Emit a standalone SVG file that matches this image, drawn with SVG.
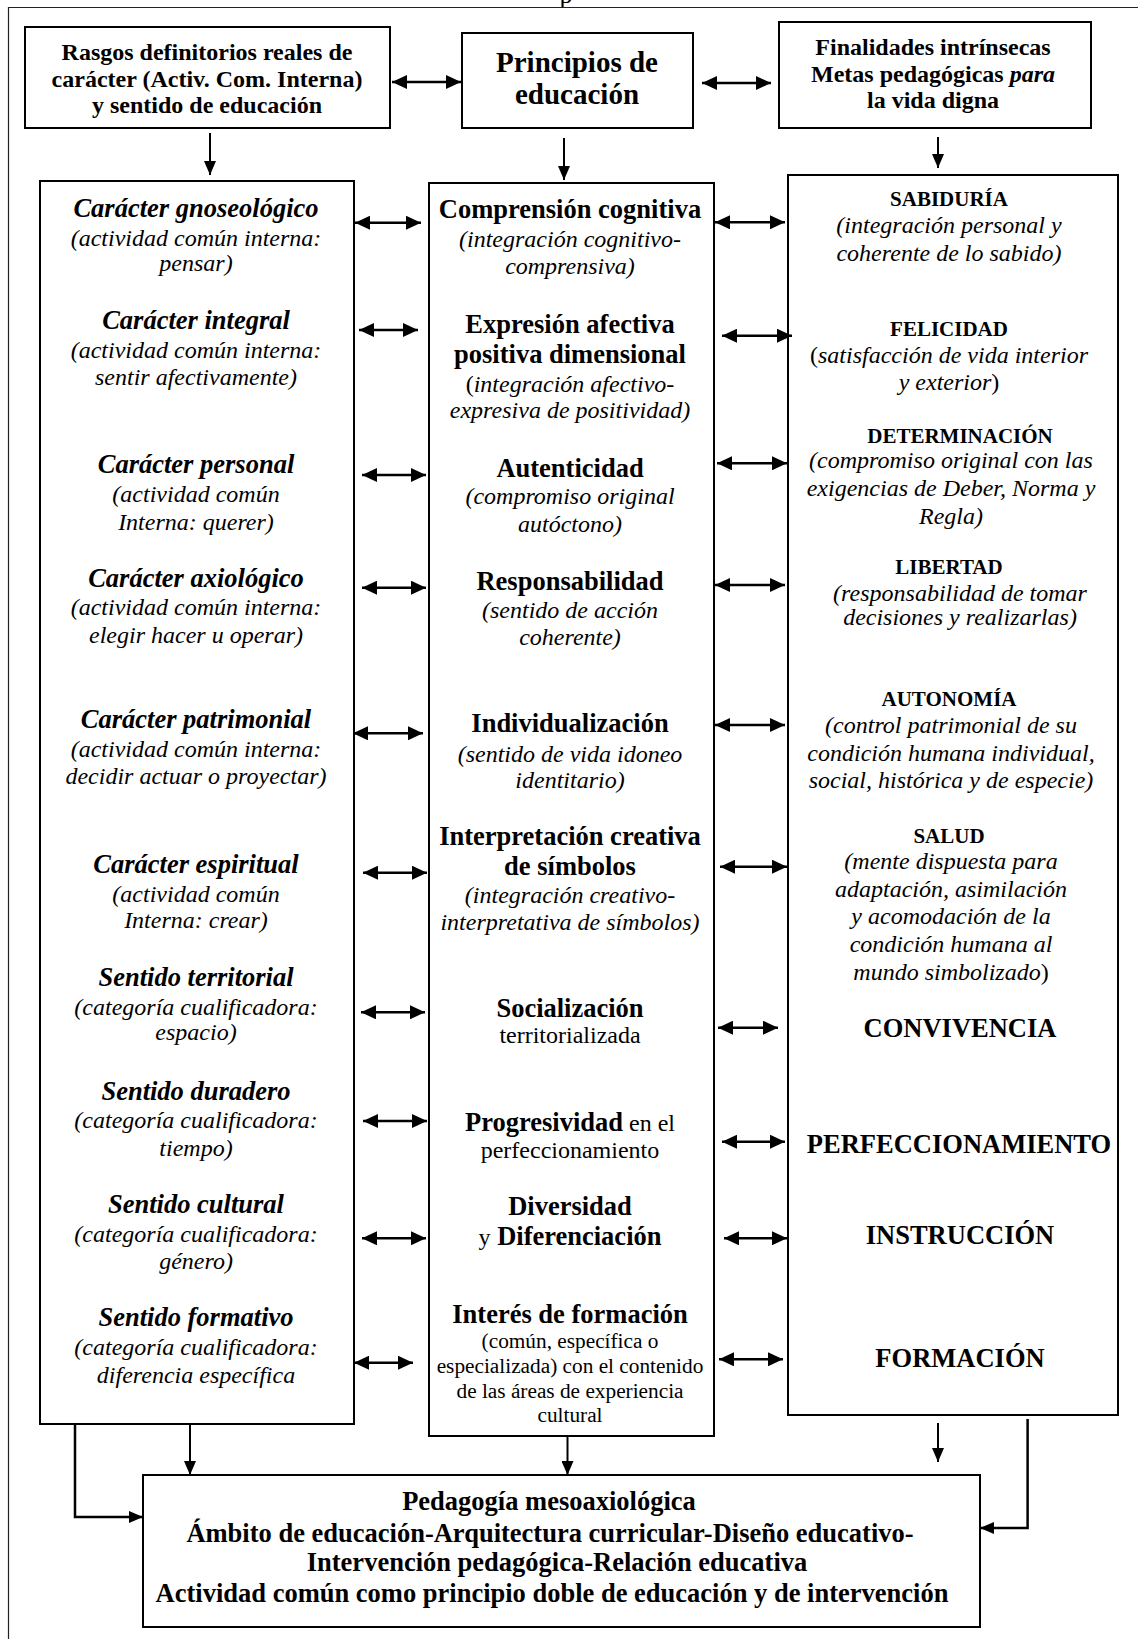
<svg xmlns="http://www.w3.org/2000/svg" width="1138" height="1639" viewBox="0 0 1138 1639">
<defs>
<marker id="ah" markerUnits="userSpaceOnUse" markerWidth="15" markerHeight="14" refX="15" refY="7" orient="auto-start-reverse" viewBox="0 0 15 14"><path d="M0,0 L15,7 L0,14 Z" fill="#000"/></marker>
<marker id="ad" markerUnits="userSpaceOnUse" markerWidth="14" markerHeight="12" refX="14" refY="6" orient="auto" viewBox="0 0 14 12"><path d="M0,0 L14,6 L0,12 Z" fill="#000"/></marker>
<style>
.bx{fill:#fff;stroke:#000;stroke-width:2}
.dbl{stroke:#000;stroke-width:2.5;fill:none;marker-start:url(#ah);marker-end:url(#ah)}
.one{stroke:#000;stroke-width:2;fill:none;marker-end:url(#ad)}
text{font-family:"Liberation Serif","Times New Roman",serif;text-anchor:middle;fill:#000}
.tb{font-weight:bold;font-size:24px}
.tp{font-weight:bold;font-size:29px}
.lh{font-weight:bold;font-style:italic;font-size:26.5px}
.it{font-style:italic;font-size:24px}
.mb{font-weight:bold;font-size:26.5px}
.rg{font-size:24px}
.sm{font-size:21.3px}
.rh{font-weight:bold;font-size:21px}
.rb{font-weight:bold;font-size:26.5px}
.up{font-style:normal}
</style>
</defs>
<rect width="1138" height="1639" fill="#fff"/>
<text x="566" y="3" style="font-size:26px">p</text>
<path d="M8.5,1639 V7.5 H1138" fill="none" stroke="#222" stroke-width="1.2"/>

<g id="n-rasgos">
<rect class="bx" x="25" y="27" width="365" height="101"/>
<text class="tb" x="207" y="60">Rasgos definitorios reales de</text>
<text class="tb" x="207" y="87">carácter (Activ. Com. Interna)</text>
<text class="tb" x="207" y="113">y sentido de educación</text>
</g>
<g id="n-principios">
<rect class="bx" x="462" y="33" width="231" height="95"/>
<text class="tp" x="577" y="72">Principios de</text>
<text class="tp" x="577" y="104">educación</text>
</g>
<g id="n-finalidades">
<rect class="bx" x="779" y="22" width="312" height="106"/>
<text class="tb" x="933" y="55">Finalidades intrínsecas</text>
<text class="tb" x="933" y="82">Metas pedagógicas <tspan font-style="italic">para</tspan></text>
<text class="tb" x="933" y="108">la vida digna</text>
</g>

<g id="n-caracter">
<rect class="bx" x="40" y="181" width="314" height="1243"/>
<text class="lh" x="196" y="216.7">Carácter gnoseológico</text>
<text class="it" x="196" y="246">(actividad común interna:</text>
<text class="it" x="196" y="270.7">pensar)</text>
<text class="lh" x="196" y="329.3">Carácter integral</text>
<text class="it" x="196" y="358.3">(actividad común interna:</text>
<text class="it" x="196" y="385">sentir afectivamente)</text>
<text class="lh" x="196" y="473.3">Carácter personal</text>
<text class="it" x="196" y="501.7">(actividad común</text>
<text class="it" x="196" y="530">Interna: querer)</text>
<text class="lh" x="196" y="586.7">Carácter axiológico</text>
<text class="it" x="196" y="615">(actividad común interna:</text>
<text class="it" x="196" y="643.3">elegir hacer u operar)</text>
<text class="lh" x="196" y="728.3">Carácter patrimonial</text>
<text class="it" x="196" y="756.7">(actividad común interna:</text>
<text class="it" x="196" y="784.3">decidir actuar o proyectar)</text>
<text class="lh" x="196" y="872.7">Carácter espiritual</text>
<text class="it" x="196" y="901.7">(actividad común</text>
<text class="it" x="196" y="928.3">Interna: crear)</text>
<text class="lh" x="196" y="986">Sentido territorial</text>
<text class="it" x="196" y="1015">(categoría cualificadora:</text>
<text class="it" x="196" y="1040">espacio)</text>
<text class="lh" x="196" y="1100">Sentido duradero</text>
<text class="it" x="196" y="1128.3">(categoría cualificadora:</text>
<text class="it" x="196" y="1156">tiempo)</text>
<text class="lh" x="196" y="1213.3">Sentido cultural</text>
<text class="it" x="196" y="1241.7">(categoría cualificadora:</text>
<text class="it" x="196" y="1269.3">género)</text>
<text class="lh" x="196" y="1326">Sentido formativo</text>
<text class="it" x="196" y="1355">(categoría cualificadora:</text>
<text class="it" x="196" y="1382.7">diferencia específica</text>
</g>

<g id="n-principios-lista">
<rect class="bx" x="429" y="183" width="285" height="1253"/>
<text class="mb" x="570" y="218.3">Comprensión cognitiva</text>
<text class="it" x="570" y="247.3">(integración cognitivo-</text>
<text class="it" x="570" y="274">comprensiva)</text>
<text class="mb" x="570" y="333.3">Expresión afectiva</text>
<text class="mb" x="570" y="363.3">positiva dimensional</text>
<text class="it" x="570" y="391.7"><tspan class="up">(</tspan>integración afectivo-</text>
<text class="it" x="570" y="418.3">expresiva de positividad)</text>
<text class="mb" x="570" y="476.7">Autenticidad</text>
<text class="it" x="570" y="504.3">(compromiso original</text>
<text class="it" x="570" y="531.7">autóctono)</text>
<text class="mb" x="570" y="590">Responsabilidad</text>
<text class="it" x="570" y="617.5">(sentido de acción</text>
<text class="it" x="570" y="645">coherente)</text>
<text class="mb" x="570" y="731.7">Individualización</text>
<text class="it" x="570" y="761.7">(sentido de vida idoneo</text>
<text class="it" x="570" y="788.3">identitario)</text>
<text class="mb" x="570" y="845">Interpretación creativa</text>
<text class="mb" x="570" y="875">de símbolos</text>
<text class="it" x="570" y="903.3">(integración creativo-</text>
<text class="it" x="570" y="930">interpretativa de símbolos)</text>
<text class="mb" x="570" y="1016.7">Socialización</text>
<text class="rg" x="570" y="1043.3">territorializada</text>
<text class="rg" x="570" y="1130.7"><tspan class="mb">Progresividad</tspan> en el</text>
<text class="rg" x="570" y="1158.3">perfeccionamiento</text>
<text class="mb" x="570" y="1215">Diversidad</text>
<text class="mb" x="570" y="1245"><tspan class="rg" font-weight="normal">y</tspan> Diferenciación</text>
<text class="mb" x="570" y="1323.3">Interés de formación</text>
<text class="sm" x="570" y="1348.3">(común, específica o</text>
<text class="sm" x="570" y="1373.3">especializada) con el contenido</text>
<text class="sm" x="570" y="1398.3">de las áreas de experiencia</text>
<text class="sm" x="570" y="1421.7">cultural</text>
</g>

<g id="n-finalidades-lista">
<rect class="bx" x="788" y="175" width="330" height="1240"/>
<text class="rh" x="949" y="206">SABIDURÍA</text>
<text class="it" x="949" y="233.3">(integración personal y</text>
<text class="it" x="949" y="260.7">coherente de lo sabido)</text>
<text class="rh" x="949" y="335.7">FELICIDAD</text>
<text class="it" x="949" y="362.7"><tspan class="up">(</tspan>satisfacción de vida interior</text>
<text class="it" x="949" y="390">y exterior<tspan class="up">)</tspan></text>
<text class="rh" x="960" y="442.7">DETERMINACIÓN</text>
<text class="it" x="951" y="468.3">(compromiso original con las</text>
<text class="it" x="951" y="496">exigencias de Deber, Norma y</text>
<text class="it" x="951" y="524.3">Regla)</text>
<text class="rh" x="949" y="574">LIBERTAD</text>
<text class="it" x="960" y="600.7">(responsabilidad de tomar</text>
<text class="it" x="960" y="625">decisiones y realizarlas)</text>
<text class="rh" x="949" y="706">AUTONOMÍA</text>
<text class="it" x="951" y="733.3">(control patrimonial de su</text>
<text class="it" x="951" y="761">condición humana individual,</text>
<text class="it" x="951" y="788.3">social, histórica y de especie)</text>
<text class="rh" x="949" y="843.3">SALUD</text>
<text class="it" x="951" y="869.3">(mente dispuesta para</text>
<text class="it" x="951" y="896.7">adaptación, asimilación</text>
<text class="it" x="951" y="924.3">y acomodación de la</text>
<text class="it" x="951" y="951.7">condición humana al</text>
<text class="it" x="951" y="980">mundo simbolizado<tspan class="up">)</tspan></text>
<text class="rb" x="960" y="1036.7">CONVIVENCIA</text>
<text class="rb" x="959" y="1152.7">PERFECCIONAMIENTO</text>
<text class="rb" x="960" y="1244">INSTRUCCIÓN</text>
<text class="rb" x="960" y="1366.7">FORMACIÓN</text>
</g>

<g id="n-pedagogia">
<rect class="bx" x="143" y="1475" width="837" height="152"/>
<text class="mb" x="549" y="1510">Pedagogía mesoaxiológica</text>
<text class="mb" x="550" y="1541.7">Ámbito de educación-Arquitectura curricular-Diseño educativo-</text>
<text class="mb" x="557" y="1571">Intervención pedagógica-Relación educativa</text>
<text class="mb" x="552" y="1601.7">Actividad común como principio doble de educación y de intervención</text>
</g>

<g id="connectors">
<path class="dbl" d="M392,82 H461"/>
<path class="dbl" d="M702,83 H771"/>
<path class="one" d="M210,133 V175"/>
<path class="one" d="M564,138 V180"/>
<path class="one" d="M938,137 V168"/>
<path class="dbl" d="M355,222.7 H421"/>
<path class="dbl" d="M359,330 H418"/>
<path class="dbl" d="M362,475 H426"/>
<path class="dbl" d="M362,587.7 H426"/>
<path class="dbl" d="M353,733.3 H423"/>
<path class="dbl" d="M363,872.7 H427"/>
<path class="dbl" d="M361,1012.3 H425"/>
<path class="dbl" d="M363,1121 H427"/>
<path class="dbl" d="M362,1238.3 H426"/>
<path class="dbl" d="M354,1362.7 H413"/>
<path class="dbl" d="M715,222.3 H785"/>
<path class="dbl" d="M722,335.7 H792"/>
<path class="dbl" d="M717,463.3 H787"/>
<path class="dbl" d="M715,585 H785"/>
<path class="dbl" d="M715,725 H785"/>
<path class="dbl" d="M720,866.7 H787"/>
<path class="dbl" d="M718,1027.7 H778"/>
<path class="dbl" d="M722,1141.7 H785"/>
<path class="dbl" d="M724,1238.3 H787"/>
<path class="dbl" d="M719,1359.3 H783"/>
<path class="one" d="M190,1424 V1475"/>
<path class="one" d="M567.5,1436 V1475"/>
<path class="one" d="M938,1423 V1462"/>
<path class="one" d="M75,1424 V1517 H143" style="stroke-width:2.5"/>
<path class="one" d="M1027.6,1419 V1528 H980" style="stroke-width:2.5"/>
</g>
</svg>
